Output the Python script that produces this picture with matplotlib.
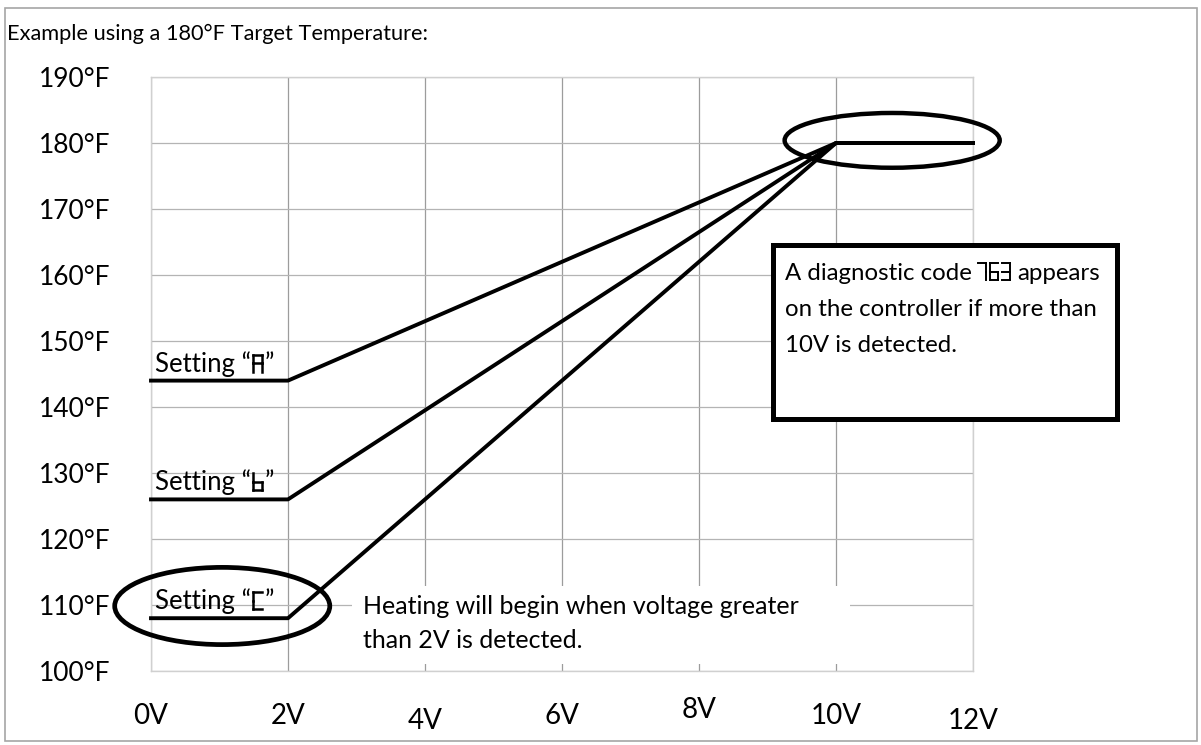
import matplotlib
matplotlib.use("Agg")
import matplotlib.pyplot as plt
from matplotlib.lines import Line2D
from matplotlib.patches import Ellipse, Rectangle
from matplotlib.transforms import Affine2D, ScaledTranslation

plt.rcParams["font.family"] = ["Lato", "DejaVu Sans"]

W, H = 1201, 745

# axis ticks
volts = [0, 2, 4, 6, 8, 10, 12]
volt_labels = ["0V", "2V", "4V", "6V", "8V", "10V", "12V"]
temps = [100, 110, 120, 130, 140, 150, 160, 170, 180, 190]
temp_labels = ["100°F", "110°F", "120°F", "130°F", "140°F",
               "150°F", "160°F", "170°F", "180°F", "190°F"]

# controller settings: start temperature below 2V, ramp up to target at 10V
setting_names = ["A", "b", "C"]
setting_temps = [144, 126, 108]
ramp_volts = [0, 2, 10, 12]
target_temp = 180
diag_code = "763"

# seven-segment display glyphs
SEGS = {
    "a": ((0, 1), (1, 1)), "b": ((1, 1), (1, .5)), "c": ((1, .5), (1, 0)),
    "d": ((0, 0), (1, 0)), "e": ((0, 0), (0, .5)), "f": ((0, .5), (0, 1)),
    "g": ((0, .5), (1, .5)),
}
GLYPHS = {"A": "abcefg", "b": "cdefg", "C": "adef",
          "7": "abc", "6": "acdefg", "3": "abcdg"}

fig = plt.figure(figsize=(W / 100, H / 100), dpi=100)
# pixel coordinates measured from the top-left corner
px = Affine2D().scale(1 / W, -1 / H).translate(0, 1) + fig.transFigure
renderer = fig.canvas.get_renderer()


def seven_seg(ch, x, base, w, h, lw):
    for s in GLYPHS[ch]:
        (x0, y0), (x1, y1) = SEGS[s]
        fig.add_artist(Line2D([x + x0 * w, x + x1 * w],
                              [base - y0 * h, base - y1 * h],
                              transform=px, color="black", lw=lw,
                              solid_capstyle="projecting", zorder=5))


def right_edge(t):
    return t.get_window_extent(renderer).x1


# outer frame
fig.add_artist(Rectangle((4.5, 7.5), 1192, 733, transform=px, fill=False,
                         edgecolor="#a6a6a6", lw=1.2))
fig.text(7, 40, "Example using a 180°F Target Temperature:", transform=px,
         fontsize=15.7, va="baseline")

ax = fig.add_axes([151 / W, 1 - 671 / H, 822 / W, 594 / H])
ax.set_xlim(0, 12)
ax.set_ylim(100, 190)
ax.set_xticks(volts)
ax.set_xticklabels(volt_labels, fontsize=20)
ax.set_yticks(temps)
ax.set_yticklabels(temp_labels, fontsize=19)
ax.tick_params(axis="x", length=0, pad=23)
ax.tick_params(axis="y", length=0, pad=29)
ax.set_axisbelow(True)
ax.xaxis.grid(True, color="#9c9c9c", lw=0.9)
ax.yaxis.grid(True, color="#b4b4b4", lw=0.9)
for sp in ax.spines.values():
    sp.set_color("#d0d0d0")
    sp.set_linewidth(1.0)

# slightly uneven baseline of the voltage labels
label_dy = [0, 0, 5, 0, -6, 0, 5]
for lab, dy in zip(ax.get_xticklabels(), label_dy):
    lab.set_transform(lab.get_transform()
                      + ScaledTranslation(0, -dy / 100, fig.dpi_scale_trans))

for level in setting_temps:
    ax.plot(ramp_volts, [level, level, target_temp, target_temp],
            color="black", lw=2.8, clip_on=False, zorder=3)

# highlight ellipses
ax.add_patch(Ellipse((10.82, 180.4), 3.14, 8.3, fill=False, edgecolor="black",
                     lw=3.2, clip_on=False, zorder=4))
ax.add_patch(Ellipse((1.04, 109.85), 3.14, 11.7, fill=False,
                     edgecolor="black", lw=3.4, clip_on=False, zorder=4))

# setting labels sitting on each flat segment
for name, level in zip(setting_names, setting_temps):
    xd, yd = ax.transData.transform((0, level))
    base = (H - yd) - 9
    t = fig.text(xd + 4, base, "Setting “", transform=px, fontsize=18.5,
                 va="baseline")
    gx = right_edge(t) + 2
    seven_seg(name, gx, base, 9, 17, 1.8)
    fig.text(gx + 12, base, "”", transform=px, fontsize=18.5, va="baseline")

# note about the 2V threshold
fig.add_artist(Rectangle((352, 586), 498, 78, transform=px, facecolor="white",
                         edgecolor="none", zorder=2))
fig.text(363, 614, "Heating will begin when voltage greater", transform=px,
         fontsize=18, va="baseline")
fig.text(363, 648, "than 2V is detected.", transform=px, fontsize=18,
         va="baseline")

# diagnostic code box
fig.add_artist(Rectangle((773, 245), 344, 174, transform=px,
                         facecolor="white", edgecolor="black", lw=3.6,
                         zorder=2))
t = fig.text(785, 280, "A diagnostic code", transform=px, fontsize=17.3,
             va="baseline")
cx = right_edge(t) + 6
for i, ch in enumerate(diag_code):
    seven_seg(ch, cx + i * 12, 280, 8.5, 17, 1.4)
fig.text(cx + 12 * len(diag_code) + 3, 280, "appears", transform=px,
         fontsize=17.3, va="baseline")
fig.text(785, 316, "on the controller if more than", transform=px,
         fontsize=17.3, va="baseline")
fig.text(785, 352, "10V is detected.", transform=px, fontsize=17.3,
         va="baseline")

fig.savefig("out.png", dpi=100)
